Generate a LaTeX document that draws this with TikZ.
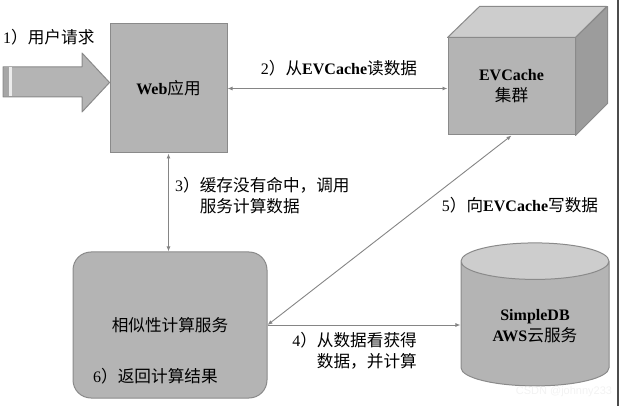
\documentclass[tikz,border=0pt]{standalone}
\usepackage{fontspec}
\setmainfont{Liberation Serif}
\setsansfont{Liberation Sans}
\newfontfamily\cjk[Scale=1.04]{Noto Sans CJK SC}
\usetikzlibrary{arrows.meta,shapes.geometric,calc}
\newcommand{\zh}[1]{{\cjk #1}}
\definecolor{boxgray}{HTML}{B4B4B4}
\definecolor{topgray}{HTML}{CDCDCD}
\definecolor{sidegray}{HTML}{9C9C9C}
\definecolor{edgegray}{HTML}{8A8A8A}
\definecolor{linegray}{HTML}{858585}

\tikzset{
    box/.style = {draw=edgegray, fill=boxgray, line width=1pt, align=center},
    face/.style = {draw=edgegray, line width=1pt, line join=round},
    link/.style = {draw=linegray, line width=0.9pt},
    tag/.style = {align=left, inner sep=0pt}
}

\begin{document}
\begin{tikzpicture}[x=1pt, y=-1pt, font=\fontsize{16}{21}\selectfont,
    >={Latex[length=5pt,width=4pt]}]
    \useasboundingbox (0,0) rectangle (619,406);

    \node[box, minimum width=117, minimum height=129] (web) at (168.5,88.5) {\textbf{Web}\zh{应用}};

    \node[box, minimum width=127, minimum height=97] (cache) at (511.5,86.5) {\textbf{EVCache}\\\zh{集群}};
    \draw[face, fill=topgray] (cache.north west) -- ++(32,-31) -- ++(127,0) -- (cache.north east) -- cycle;
    \draw[face, fill=sidegray] (cache.north east) -- ++(32,-31) -- ++(0,97) -- (cache.south east) -- cycle;

    \node[box, rounded corners=18, minimum width=194, minimum height=146] (calc) at (170,325) {\zh{相似性计算服务}};
    \node[tag, anchor=west] (ret) at (93,376) {6\zh{）返回计算结果}};

    \node[cylinder, shape border rotate=90, aspect=0.4, draw=edgegray, line width=1pt,
        cylinder uses custom fill, cylinder body fill=boxgray, cylinder end fill=topgray,
        minimum width=148, minimum height=143, align=center] (db) at (535,326.5)
        {\textbf{SimpleDB}\\\textbf{AWS}\zh{云服务}};

    \coordinate (tip) at ($(web.west)+(0,-6)$);
    \draw[face, fill=boxgray] (tip) -- (82,53) -- (82,67) -- (3,67) -- (3,97) -- (82,97) -- (82,112) -- cycle;
    \fill[gray!70] (3.5,67.5) rectangle (9,96.5);
    \fill[gray!15] (9,67.5) rectangle (12,96.5);

    \draw[link, <->] (web.east) -- (web.east -| cache.west);
    \draw[link, <->] (web.south) -- (web.south |- calc.north);
    \draw[link, <->] (calc.east) -- (cache.south);
    \draw[link, ->] (calc.east) -- (calc.east -| db.west);

    \node[tag, anchor=west] (l1) at (3,37) {1\zh{）用户请求}};
    \node[tag] (l2) at (339,68) {2\zh{）从}\textbf{EVCache}\zh{读数据}};
    \node[tag, anchor=west] (l3) at (175,196) {3\zh{）缓存没有命中，调用}\\\hphantom{3\zh{）}}\zh{服务计算数据}};
    \node[tag, align=right, anchor=east] (l4) at (417,351) {4\zh{）从数据看获得}\\\zh{数据，并计算}};
    \node[tag] (l5) at (520,205) {5\zh{）向}\textbf{EVCache}\zh{写数据}};

    \node[font=\sffamily\fontsize{11}{13}\selectfont, text=gray!10] (mark) at (564,392) {CSDN @johnny233};
    \fill[gray!60!black] (616.5,0) rectangle (619,406);
\end{tikzpicture}
\end{document}
